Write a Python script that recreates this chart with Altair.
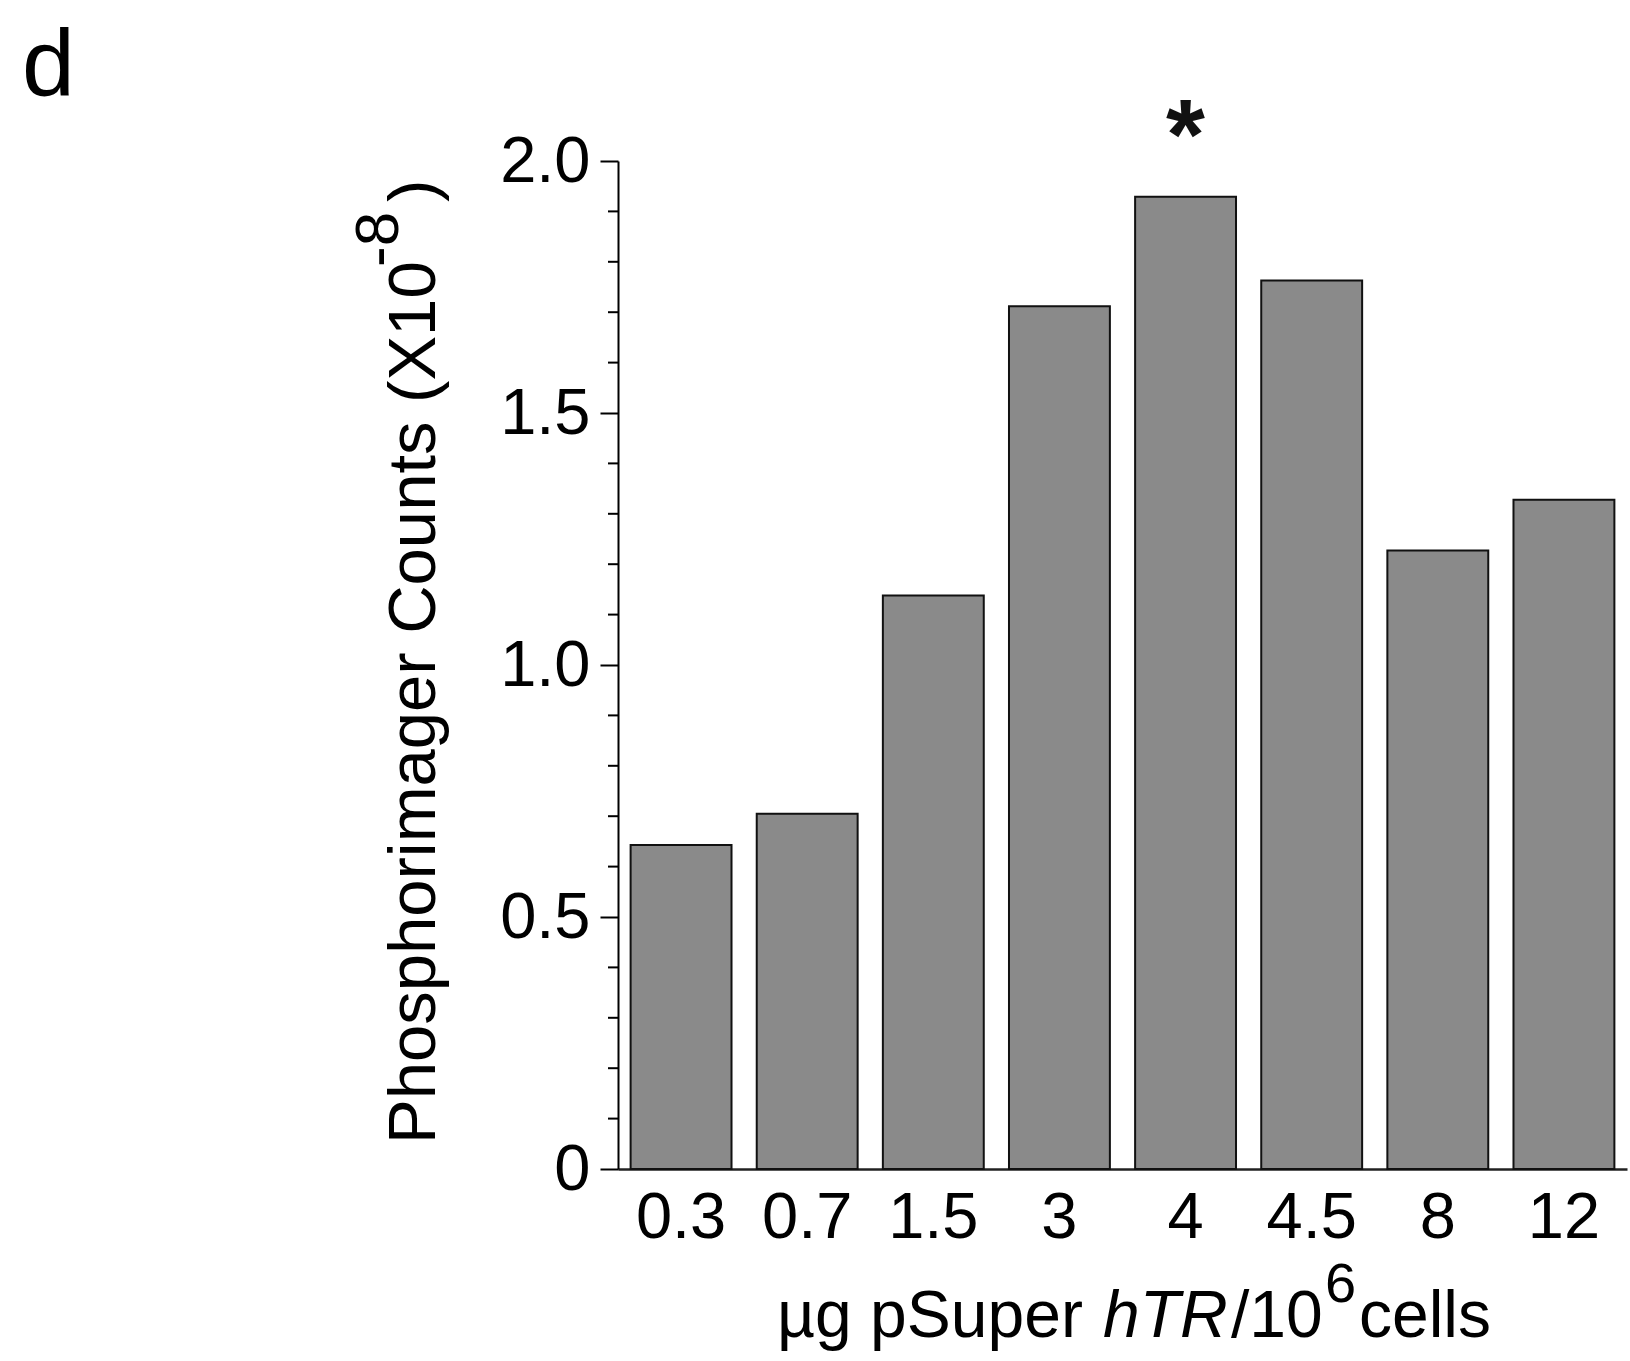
import altair as alt
import pandas as pd

# ---- data ----
doses = ["0.3", "0.7", "1.5", "3", "4", "4.5", "8", "12"]
counts = [0.643, 0.705, 1.138, 1.712, 1.929, 1.763, 1.227, 1.328]
major_ticks = [0, 0.5, 1.0, 1.5, 2.0]
minor_ticks = [0.1, 0.2, 0.3, 0.4, 0.6, 0.7, 0.8, 0.9,
               1.1, 1.2, 1.3, 1.4, 1.6, 1.7, 1.8, 1.9]
star_dose = ["4"]

FONT = "Liberation Sans"
W, H = 1009, 1008

bars_df = pd.DataFrame({"dose": doses, "count": counts})
minor_df = pd.DataFrame({"v": minor_ticks})
star_df = pd.DataFrame({"dose": star_dose})

xscale = alt.Scale(domain=doses, paddingInner=0.2, paddingOuter=0.1)
yscale = alt.Scale(domain=[0, 2], nice=False)

bars = alt.Chart(bars_df).mark_bar(
    fill="#8a8a8a", stroke="#111111", strokeWidth=2
).encode(
    x=alt.X("dose:N", scale=xscale, sort=doses,
            axis=alt.Axis(title=None, labelAngle=0, ticks=False, tickSize=0,
                          labelFont=FONT, labelFontSize=65, labelColor="black",
                          labelPadding=17, domainColor="#222222", domainWidth=2.5)),
    y=alt.Y("count:Q", scale=yscale,
            axis=alt.Axis(title=None, values=major_ticks, grid=False,
                          tickSize=18, tickWidth=2, tickColor="black",
                          domainColor="black", domainWidth=2,
                          labelFont=FONT, labelFontSize=65, labelColor="black",
                          labelPadding=10,
                          labelExpr="datum.value == 0 ? '0' : format(datum.value, '.1f')")),
)

minor = alt.Chart(minor_df).mark_rule(color="black", strokeWidth=2).encode(
    y=alt.Y("v:Q", scale=yscale),
    x=alt.value(-10), x2=alt.value(0),
)

star = alt.Chart(star_df).mark_text(
    text="*", font=FONT, fontWeight="bold", fontSize=100, color="#111111",
    align="center", baseline="alphabetic"
).encode(
    x=alt.X("dose:N", scale=xscale, sort=doses),
    y=alt.value(8),
)

def label(txt, x, y, size, **kw):
    return alt.Chart(pd.DataFrame({"t": [txt]})).mark_text(
        font=FONT, fontSize=size, color="black", baseline="alphabetic", **kw
    ).encode(text="t:N", x=alt.value(x), y=alt.value(y))

panel = label("d", -596, -65, 95, align="left")

# x title: µg pSuper hTR/10^6cells
xt_y = 1176
xtitle = [
    label("µg pSuper", 159, xt_y, 66, align="left"),
    label("hTR", 485, xt_y, 66, align="left", fontStyle="italic"),
    label("/10", 613, xt_y, 66, align="left"),
    label("6", 707, xt_y - 35, 56, align="left"),
    label("cells", 741, xt_y, 66, align="left"),
]

# y title: Phosphorimager Counts (X10^-8)
ytitle = [
    label("Phosphorimager Counts (X10", -183, 983, 67, align="left", angle=270),
    label("-8", -220, 106, 62, align="left", angle=270),
    label(")", -183, 41, 67, align="left", angle=270),
]

chart = alt.layer(bars, minor, star, panel, *xtitle, *ytitle).properties(
    width=W, height=H,
    autosize=alt.AutoSizeParams(type="none"),
    padding={"left": 618, "top": 161, "right": 3, "bottom": 192},
    background="white",
).configure_view(stroke=None)

chart.save("out.html", embed_options={"renderer": "svg", "actions": False})
